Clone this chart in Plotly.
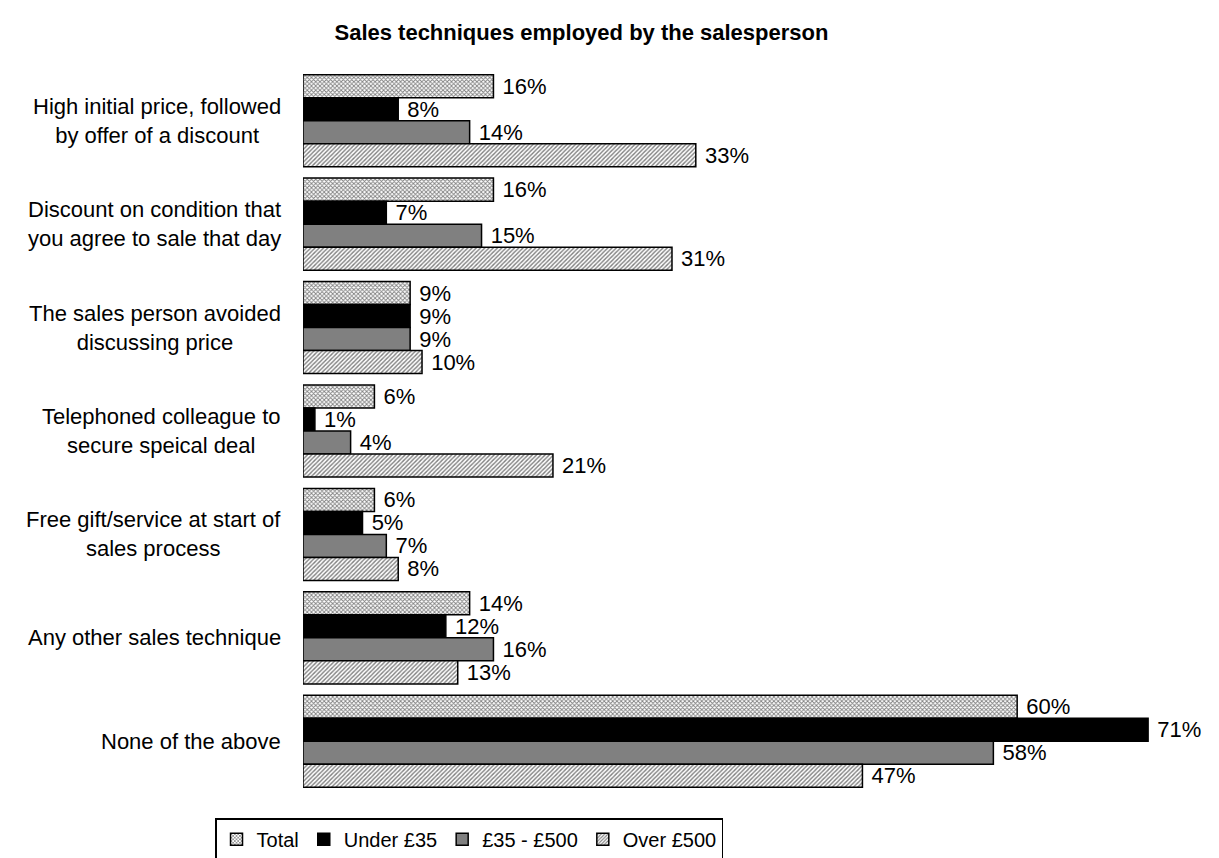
import plotly.graph_objects as go

categories = [
    "High initial price, followed<br>by offer of a discount",
    "Discount on condition that<br>you agree to sale that day",
    "The sales person avoided<br>discussing price",
    "Telephoned colleague to<br>secure speical deal",
    "Free gift/service at start of<br>sales process",
    "Any other sales technique",
    "None of the above",
]
series_names = ["Total", "Under £35", "£35 - £500", "Over £500"]
total = [16, 16, 9, 6, 6, 14, 60]
under_35 = [8, 7, 9, 1, 5, 12, 71]
mid_35_500 = [14, 15, 9, 4, 7, 16, 58]
over_500 = [33, 31, 10, 21, 8, 13, 47]

series_values = [total, under_35, mid_35_500, over_500]
styles = [
    dict(color="white", pattern=dict(shape="x", size=3, solidity=0.5, fgcolor="black", bgcolor="white", fillmode="overlay")),
    dict(color="black"),
    dict(color="#808080"),
    dict(color="white", pattern=dict(shape="/", size=3, solidity=0.45, fgcolor="black", bgcolor="white", fillmode="overlay")),
]

FONT = "Liberation Sans, Arial, sans-serif"

fig = go.Figure()
for name, vals, st in zip(series_names, series_values, styles):
    fig.add_trace(go.Bar(
        name=name,
        y=categories,
        x=vals,
        orientation="h",
        marker=dict(line=dict(color="black", width=1.5), **st),
        text=[f"\u00a0{v}%" for v in vals],
        textposition="outside",
        constraintext="none",
        cliponaxis=False,
        textfont=dict(family=FONT, size=22, color="black"),
    ))

# category labels: right-aligned block, lines centred within it
for cat in categories:
    fig.add_annotation(
        x=-0.022, xref="paper", y=cat, yref="y",
        text=cat, showarrow=False, xanchor="right", align="center",
        font=dict(family=FONT, size=22, color="black"),
    )

fig.update_layout(
    width=1219, height=858,
    paper_bgcolor="white", plot_bgcolor="white",
    margin=dict(l=303, r=9, t=69, b=65, autoexpand=False),
    barmode="group", bargap=0.11, bargroupgap=0,
    title=dict(text="<b>Sales techniques employed by the salesperson</b>",
               x=0.477, xanchor="center", y=0.962, yanchor="middle",
               font=dict(family=FONT, size=22, color="black")),
    xaxis=dict(range=[0, 76.2], visible=False),
    yaxis=dict(autorange="reversed", showticklabels=False, showline=False,
               showgrid=False, zeroline=False, ticks=""),
    legend=dict(orientation="h", x=-0.097, xanchor="left", y=-0.035, yanchor="top",
                bordercolor="black", borderwidth=1.5, bgcolor="white",
                font=dict(family=FONT, size=20, color="black"),
                itemwidth=30, traceorder="normal"),
    showlegend=True,
)

fig.write_html("out.html")
